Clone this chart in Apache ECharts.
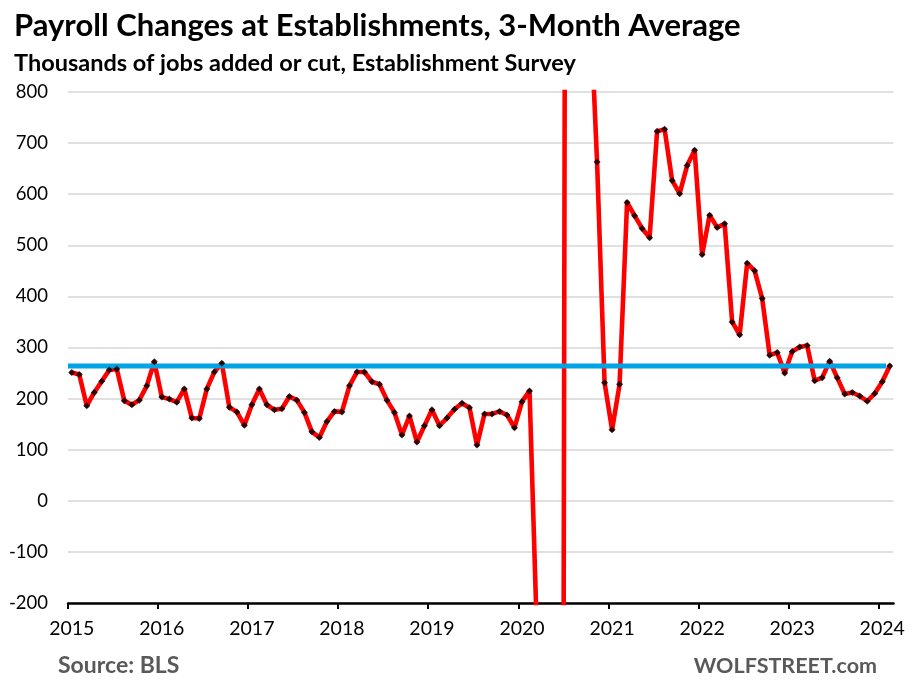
<!DOCTYPE html>
<html>
<head>
<meta charset="utf-8">
<script src="https://cdn.jsdelivr.net/npm/echarts@6/dist/echarts.min.js"></script>
<style>
  html, body { margin: 0; padding: 0; background: #ffffff; }
  #chart { width: 913px; height: 692px; }
</style>
</head>
<body>
<div id="chart"></div>
<script>
// ---- Data (thousands of jobs, 3-month average, monthly Jan 2015 .. Feb 2024) ----
const yearLabels = ['2015', '2016', '2017', '2018', '2019', '2020', '2021', '2022', '2023', '2024'];

const v2015 = [251, 247, 186, 212, 234, 256, 258, 196, 188, 197, 225, 272];
const v2016 = [203, 199, 193, 219, 162, 161, 219, 252, 269, 183, 174, 148];
const v2017 = [188, 219, 188, 178, 180, 204, 197, 173, 135, 124, 155, 175];
const v2018 = [174, 225, 252, 252, 233, 228, 197, 173, 129, 166, 115, 147];
const v2019 = [178, 147, 162, 179, 191, 182, 109, 170, 170, 175, 168, 143];
const v2020 = [194, 215, -268, -7183, -6339, -4266, 3135, 2718, 1342, 1000, 663, 231];
const v2021 = [139, 228, 584, 558, 533, 515, 723, 727, 627, 601, 656, 686];
const v2022 = [482, 559, 535, 542, 350, 325, 465, 450, 396, 285, 290, 250];
const v2023 = [292, 301, 304, 235, 241, 273, 241, 209, 212, 205, 195, 210];
const v2024 = [233, 264];

const values = [].concat(v2015, v2016, v2017, v2018, v2019, v2020, v2021, v2022, v2023, v2024);

// month category names built from the year labels
const months = [];
yearLabels.forEach(function (y) {
  for (let m = 1; m <= 12; m++) {
    if (months.length < values.length) months.push(y + '-' + (m < 10 ? '0' + m : m));
  }
});

const n = values.length;
const currentLevel = values[n - 1];           // blue reference line = latest value
const yearTickPos = yearLabels.map(function (_, i) { return i * 12; });       // January boundaries
const yearLabelPos = yearLabels.map(function (_, i) { return i * 12 + 0.5; }); // mid-January

const FONT = 'Lato';

const chart = echarts.init(document.getElementById('chart'), null, { renderer: 'canvas' });

const option = {
  animation: false,
  backgroundColor: '#ffffff',
  title: [
    {
      text: 'Payroll Changes at Establishments, 3-Month Average',
      left: 9, top: 5,
      textStyle: { fontFamily: FONT, fontWeight: 'bold', fontSize: 31, color: '#000000' }
    },
    {
      text: 'Thousands of jobs added or cut, Establishment Survey',
      left: 9, top: 46,
      textStyle: { fontFamily: FONT, fontWeight: 'bold', fontSize: 23.5, color: '#000000' }
    },
    {
      text: 'Source: BLS',
      left: 53, top: 649,
      textStyle: { fontFamily: FONT, fontWeight: 'bold', fontSize: 23, color: '#595959' }
    },
    {
      text: 'WOLFSTREET.com',
      right: 31, top: 650,
      textStyle: { fontFamily: FONT, fontWeight: 'bold', fontSize: 21.5, color: '#595959' }
    }
  ],
  grid: { left: 68, right: 19.5, top: 92, bottom: 89, containLabel: false },
  xAxis: [
    {
      type: 'category', data: months, boundaryGap: true, position: 'bottom', show: false
    },
    {
      type: 'value', min: 0, max: n, position: 'bottom',
      axisLine: { show: true, onZero: true, lineStyle: { color: '#000000', width: 2.5 } },
      axisTick: { show: true, customValues: yearTickPos, length: 6, lineStyle: { color: '#000000', width: 2 } },
      axisLabel: { show: false },
      splitLine: { show: false }
    },
    {
      type: 'value', min: 0, max: n, position: 'bottom',
      axisLine: { show: false, onZero: false },
      axisTick: { show: false },
      splitLine: { show: false },
      axisLabel: {
        show: true, customValues: yearLabelPos, margin: 16,
        fontFamily: FONT, fontSize: 19.5, color: '#000000',
        formatter: function (v) { return yearLabels[Math.round((v - 0.5) / 12)]; }
      }
    }
  ],
  yAxis: {
    type: 'value', min: -200, max: 800, interval: 100,
    axisLine: { show: false },
    axisTick: { show: false },
    axisLabel: { margin: 20, fontFamily: FONT, fontSize: 18.5, color: '#000000' },
    splitLine: { show: true, lineStyle: { color: '#d6d6d6', width: 1.6 } }
  },
  series: [
    {
      name: 'Payroll change', type: 'line', xAxisIndex: 0, data: values,
      showSymbol: false, clip: true, z: 2,
      lineStyle: { color: '#ff0000', width: 4.6, join: 'round', cap: 'round' }
    },
    {
      name: 'Current level', type: 'line', xAxisIndex: 1,
      data: [[0, currentLevel], [n - 1, currentLevel]],
      showSymbol: false, z: 3,
      lineStyle: { color: '#00a3e4', width: 5 }
    },
    {
      name: 'Points', type: 'scatter', xAxisIndex: 0, data: values,
      symbol: 'diamond', symbolSize: 7, clip: true, z: 4,
      itemStyle: { color: '#000000' }
    }
  ]
};

chart.setOption(option);
</script>
</body>
</html>
